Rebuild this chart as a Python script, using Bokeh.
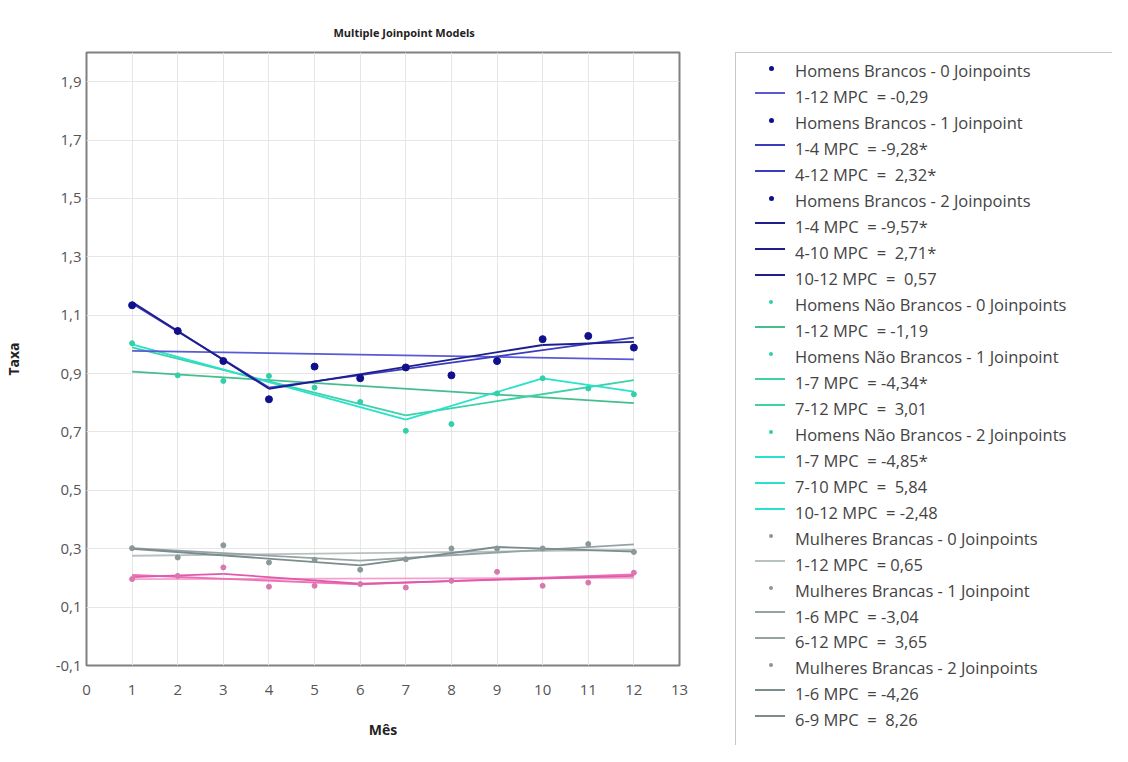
from bokeh.plotting import figure
from bokeh.layouts import row
from bokeh.models import Range1d, FixedTicker, CustomJSTickFormatter, Div
from bokeh.embed import file_html
from bokeh.resources import INLINE

# ---------------- data ----------------
months = list(range(1, 13))
x_ticks = list(range(0, 14))
y_ticks = [-0.1, 0.1, 0.3, 0.5, 0.7, 0.9, 1.1, 1.3, 1.5, 1.7, 1.9]

hb_obs = [1.134, 1.046, 0.943, 0.812, 0.924, 0.884, 0.921, 0.894, 0.943, 1.018, 1.029, 0.989]
hnb_obs = [1.004, 0.894, 0.875, 0.892, 0.852, 0.803, 0.704, 0.727, 0.832, 0.884, 0.849, 0.829]
mb_obs = [0.302, 0.270, 0.312, 0.253, 0.262, 0.228, 0.264, 0.301, 0.301, 0.301, 0.316, 0.289]
mnb_obs = [0.196, 0.207, 0.236, 0.170, 0.173, 0.179, 0.167, 0.190, 0.221, 0.173, 0.184, 0.218]

hb_fit0_x, hb_fit0_y = [1, 12], [0.978, 0.949]
hb_fit1_x, hb_fit1_y = [1, 4, 12], [1.140, 0.852, 1.023]
hb_fit2_x, hb_fit2_y = [1, 4, 10, 12], [1.145, 0.848, 0.998, 1.009]

hnb_fit0_x, hnb_fit0_y = [1, 12], [0.907, 0.799]
hnb_fit1_x, hnb_fit1_y = [1, 7, 12], [0.990, 0.757, 0.878]
hnb_fit2_x, hnb_fit2_y = [1, 7, 10, 12], [1.000, 0.742, 0.884, 0.838]

mb_fit0_x, mb_fit0_y = [1, 12], [0.276, 0.296]
mb_fit1_x, mb_fit1_y = [1, 6, 12], [0.302, 0.259, 0.315]
mb_fit2_x, mb_fit2_y = [1, 6, 9, 12], [0.300, 0.243, 0.306, 0.290]

mnb_fit0_x, mnb_fit0_y = [1, 12], [0.196, 0.200]
mnb_fit1_x, mnb_fit1_y = [1, 6, 12], [0.210, 0.178, 0.212]
mnb_fit2_x, mnb_fit2_y = [1, 3, 6, 12], [0.203, 0.214, 0.180, 0.207]

legend_labels = [
    "Homens Brancos - 0 Joinpoints",
    "1-12 MPC  = -0,29",
    "Homens Brancos - 1 Joinpoint",
    "1-4 MPC  = -9,28*",
    "4-12 MPC  =  2,32*",
    "Homens Brancos - 2 Joinpoints",
    "1-4 MPC  = -9,57*",
    "4-10 MPC  =  2,71*",
    "10-12 MPC  =  0,57",
    "Homens Não Brancos - 0 Joinpoints",
    "1-12 MPC  = -1,19",
    "Homens Não Brancos - 1 Joinpoint",
    "1-7 MPC  = -4,34*",
    "7-12 MPC  =  3,01",
    "Homens Não Brancos - 2 Joinpoints",
    "1-7 MPC  = -4,85*",
    "7-10 MPC  =  5,84",
    "10-12 MPC  = -2,48",
    "Mulheres Brancas - 0 Joinpoints",
    "1-12 MPC  = 0,65",
    "Mulheres Brancas - 1 Joinpoint",
    "1-6 MPC  = -3,04",
    "6-12 MPC  =  3,65",
    "Mulheres Brancas - 2 Joinpoints",
    "1-6 MPC  = -4,26",
    "6-9 MPC  =  8,26",
]

# ---------------- styles ----------------
HB_DOT = "#10108C"
HB_L = ["#5A5AD2", "#3B3BBE", "#1E1E8C"]
HNB_DOT = "#30D0A8"
HNB_L = ["#45BE8E", "#3AD2A6", "#28E2CC"]
MB_DOT = "#8A9898"
MB_L = ["#B8C0C0", "#97A3A3", "#7A8C8C"]
MNB_DOT = "#D878B0"
MNB_L = ["#F4A0D0", "#EE6EB8", "#E05AA8"]
FONT = "Open Sans"
LW = 1.8

# ---------------- main plot ----------------
p = figure(width=733, height=745, x_range=Range1d(0, 13), y_range=Range1d(-0.1, 2.0),
           output_backend="svg", toolbar_location=None,
           min_border_left=86, min_border_right=54, min_border_top=52, min_border_bottom=80)
p.title.text = "Multiple Joinpoint Models"
p.title.align = "left"
p.title.offset = 247
p.title.standoff = 25
p.title.text_font = FONT
p.title.text_font_size = "11px"
p.title.text_font_style = "bold"
p.title.text_color = "#222222"

p.outline_line_color = "#808080"
p.outline_line_width = 2

p.xaxis.ticker = FixedTicker(ticks=x_ticks)
p.yaxis.ticker = FixedTicker(ticks=y_ticks)
p.yaxis.formatter = CustomJSTickFormatter(code="return tick.toFixed(1).replace('.', ',');")
for ax in (p.xaxis[0], p.yaxis[0]):
    ax.axis_line_color = None
    ax.major_tick_line_color = None
    ax.minor_tick_line_color = None
    ax.major_tick_out = 0
    ax.major_tick_in = 0
    ax.minor_tick_out = 0
    ax.major_label_text_font = FONT
    ax.major_label_text_font_size = "15px"
    ax.major_label_text_color = "#555555"
    ax.axis_label_text_font = FONT
    ax.axis_label_text_font_size = "14px"
    ax.axis_label_text_font_style = "bold"
    ax.axis_label_text_color = "#222222"
p.xaxis.axis_label = "Mês"
p.yaxis.axis_label = "Taxa"
p.xaxis.major_label_standoff = 19
p.xaxis.axis_label_standoff = 22
p.yaxis.major_label_standoff = 5
p.yaxis.axis_label_standoff = 30

p.xgrid.ticker = FixedTicker(ticks=x_ticks)
p.ygrid.ticker = FixedTicker(ticks=y_ticks)
p.xgrid.grid_line_color = "#E6E6E6"
p.ygrid.grid_line_color = "#E6E6E6"


def draw_fit(xs, ys, color):
    for i in range(len(xs) - 1):
        p.line(xs[i:i + 2], ys[i:i + 2], line_color=color, line_width=LW)


# Mulheres não brancas (pink)
draw_fit(mnb_fit0_x, mnb_fit0_y, MNB_L[0])
draw_fit(mnb_fit1_x, mnb_fit1_y, MNB_L[1])
draw_fit(mnb_fit2_x, mnb_fit2_y, MNB_L[2])
p.scatter(months, mnb_obs, size=5, color=MNB_DOT)
# Mulheres brancas (gray)
draw_fit(mb_fit0_x, mb_fit0_y, MB_L[0])
draw_fit(mb_fit1_x, mb_fit1_y, MB_L[1])
draw_fit(mb_fit2_x, mb_fit2_y, MB_L[2])
p.scatter(months, mb_obs, size=5, color=MB_DOT)
# Homens não brancos (green/cyan)
draw_fit(hnb_fit0_x, hnb_fit0_y, HNB_L[0])
draw_fit(hnb_fit1_x, hnb_fit1_y, HNB_L[1])
draw_fit(hnb_fit2_x, hnb_fit2_y, HNB_L[2])
p.scatter(months, hnb_obs, size=5, color=HNB_DOT)
# Homens brancos (blue)
draw_fit(hb_fit0_x, hb_fit0_y, HB_L[0])
draw_fit(hb_fit1_x, hb_fit1_y, HB_L[1])
draw_fit(hb_fit2_x, hb_fit2_y, HB_L[2])
p.scatter(months, hb_obs, size=7, color=HB_DOT)

# ---------------- legend (HTML panel to the right) ----------------
groups = [(HB_DOT, HB_L, 5), (HNB_DOT, HNB_L, 4), (MB_DOT, MB_L, 4)]
n_segs = [1, 2, 3]
rows_style = []
for dot_c, line_cs, dsz in groups:
    for k in range(3):
        rows_style.append(("dot", dot_c, dsz))
        rows_style.extend([("line", line_cs[k], 0)] * n_segs[k])
rows_style = rows_style[:len(legend_labels)]

ROW0, PITCH = 71.3, 25.96
parts = [
    '<div style="position:relative;width:379px;height:745px;overflow:hidden;'
    'font-family:\'Open Sans\',sans-serif;font-size:16.5px;color:#444444;background:white;">',
    '<div style="position:absolute;left:2px;top:52px;width:430px;height:760px;'
    'border:1px solid #C8C8C8;box-sizing:border-box;"></div>',
]
for i, (lab, (kind, col, dsz)) in enumerate(zip(legend_labels, rows_style)):
    yc = ROW0 + PITCH * i
    if kind == "dot":
        parts.append(
            f'<div style="position:absolute;left:{38 - dsz / 2:.1f}px;top:{yc - 3 - dsz / 2:.1f}px;'
            f'width:{dsz}px;height:{dsz}px;border-radius:50%;background-color:{col};"></div>')
    else:
        parts.append(
            f'<div style="position:absolute;left:22px;top:{round(yc - 5)}px;width:30px;height:2px;'
            f'background-color:{col};"></div>')
    parts.append(
        f'<div style="position:absolute;left:62px;top:{yc - 11:.1f}px;height:22px;'
        f'line-height:22px;white-space:pre;">{lab}</div>')
parts.append('</div>')

legend_div = Div(text="".join(parts), width=379, height=745, margin=0)

layout = row(p, legend_div)
open("out.html", "w").write(file_html(layout, INLINE))
